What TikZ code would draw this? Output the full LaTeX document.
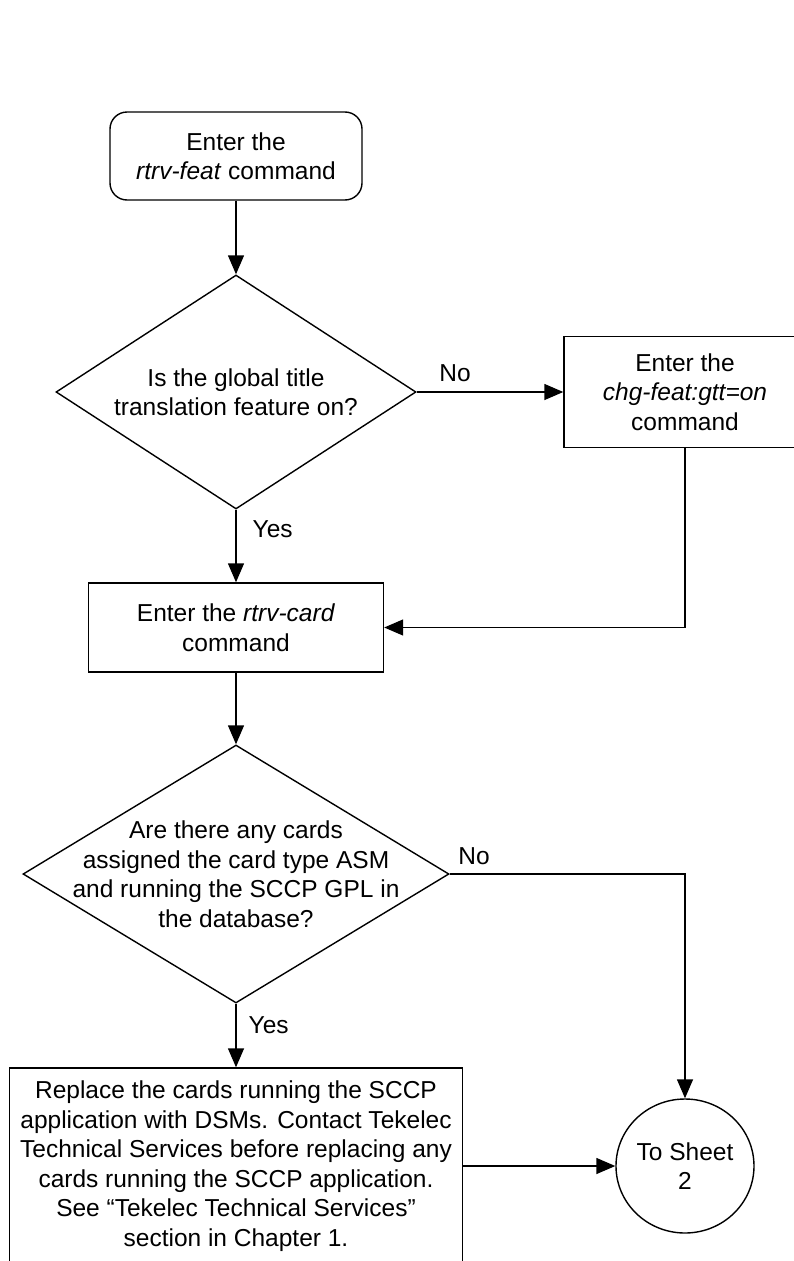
\documentclass[tikz,border=0pt]{standalone}
\usepackage{fontspec}
\setmainfont{Liberation Sans}
\usetikzlibrary{shapes.geometric,arrows.meta}

\begin{document}
\begin{tikzpicture}[x=1pt, y=-1pt, line width=1.4pt, line join=miter,
    txt/.style={font=\fontsize{24.5}{29.5}\selectfont, align=center, inner sep=0pt},
    cmdbox/.style={txt, draw, rectangle},
    startbox/.style={cmdbox, rounded corners=17pt},
    decision/.style={draw, diamond, inner sep=0pt},
    offpage/.style={txt, draw, ellipse},
    flow/.style={-{Triangle[length=19pt,width=16pt]}},
    lbl/.style={font=\fontsize{24.5}{29.5}\selectfont, inner sep=0pt}]

\useasboundingbox (0,0) rectangle (793,1261);

% Start
\node[startbox, minimum width=252pt, minimum height=88pt] (feat) at (236,156)
    {Enter the\\\textit{rtrv-feat} command};

% GTT feature on?
\node[decision, minimum width=360pt, minimum height=234pt] (gttq) at (236,392) {};
\node[txt] (gttqtext) at (gttq.center)
    {Is the global title\\translation feature on?};

% Turn the feature on
\node[cmdbox, minimum width=242pt, minimum height=111pt] (gtton) at (685,392)
    {Enter the\\\textit{chg-feat:gtt=on}\\command};

% Cards
\node[cmdbox, minimum width=295pt, minimum height=89pt] (card) at (236,627.5)
    {Enter the \textit{rtrv-card}\\command};

% ASM cards?
\node[decision, minimum width=426pt, minimum height=258pt] (asmq) at (236,874) {};
\node[txt] (asmqtext) at (asmq.center)
    {Are there any cards\\assigned the card type ASM\\and running the SCCP GPL in\\the database?};

% Replace with DSMs
\node[cmdbox, minimum width=453pt, minimum height=196pt] (replace) at (236,1166)
    {Replace the cards running the SCCP\\application with DSMs. Contact Tekelec\\Technical Services before replacing any\\cards running the SCCP application.\\See “Tekelec Technical Services”\\section in Chapter 1.};

% Off-page connector
\node[offpage, minimum width=138pt, minimum height=134pt] (sheet) at (685,1166)
    {To Sheet\\2};

% Connectors
\draw[flow] (feat.south) -- (gttq.north);
\draw[flow] (gttq.east) -- (gtton.west)
    node[lbl, pos=0, anchor=south west, xshift=22pt, yshift=10pt] {No};
\draw[flow] (gttq.south) -- (card.north)
    node[lbl, pos=0, anchor=north west, xshift=16pt, yshift=-10pt] {Yes};
\draw[flow] (gtton.south) |- (card.east);
\draw[flow] (card.south) -- (asmq.north);
\draw[flow] (asmq.east) -| (sheet.north)
    node[lbl, pos=0, anchor=south west, xshift=8pt, yshift=9pt] {No};
\draw[flow] (asmq.south) -- (replace.north)
    node[lbl, pos=0, anchor=north west, xshift=12pt, yshift=-12pt] {Yes};
\draw[flow] (replace.east) -- (sheet.west);

\end{tikzpicture}
\end{document}
